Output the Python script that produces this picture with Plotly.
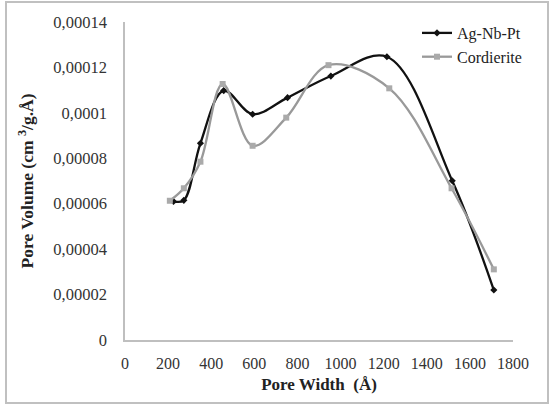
import plotly.graph_objects as go

# Data
ag_x = [225, 273, 350, 458, 592, 754, 955, 1215, 1518, 1711]
ag_y = [0.0000610, 0.0000615, 0.0000866, 0.0001098, 0.0000994, 0.0001067, 0.0001162, 0.0001247, 0.0000701, 0.0000220]
co_x = [208, 273, 350, 453, 592, 748, 944, 1226, 1515, 1711]
co_y = [0.0000613, 0.0000668, 0.0000785, 0.0001127, 0.0000855, 0.0000979, 0.0001210, 0.0001108, 0.0000668, 0.0000311]

y_ticks = [0, 0.00002, 0.00004, 0.00006, 0.00008, 0.0001, 0.00012, 0.00014]
y_labels = ["0", "0,00002", "0,00004", "0,00006", "0,00008", "0,0001", "0,00012", "0,00014"]
x_ticks = [0, 200, 400, 600, 800, 1000, 1200, 1400, 1600, 1800]

FONT = "Liberation Serif"

fig = go.Figure()
fig.add_trace(go.Scatter(
    x=ag_x, y=ag_y, name="Ag-Nb-Pt", mode="lines+markers",
    line=dict(color="#111111", width=2.3, shape="spline", smoothing=1),
    marker=dict(symbol="diamond", size=5.5, color="#111111"),
))
fig.add_trace(go.Scatter(
    x=co_x, y=co_y, name="Cordierite", mode="lines+markers",
    line=dict(color="#999999", width=2.3, shape="spline", smoothing=1),
    marker=dict(symbol="square", size=6, color="#aaaaaa"),
))

L, R, T, B = 125, 37, 22, 65
W, H = 550, 405
pw, ph = W - L - R, H - T - B

def px2paper_x(px):
    return (px - L) / pw

def px2paper_y(py):
    return (H - B - py) / ph

fig.add_shape(type="rect", xref="paper", yref="paper",
              x0=px2paper_x(6), x1=px2paper_x(548), y0=px2paper_y(403), y1=px2paper_y(2),
              line=dict(color="#c0c0c0", width=2), fillcolor="rgba(0,0,0,0)", layer="below")

fig.update_layout(
    width=W, height=H,
    margin=dict(l=L, r=R, t=T, b=B, autoexpand=False),
    paper_bgcolor="white", plot_bgcolor="white",
    font=dict(family=FONT, size=16, color="#222222"),
    showlegend=True,
    legend=dict(x=px2paper_x(417), y=px2paper_y(16), xanchor="left", yanchor="top",
                font=dict(family=FONT, size=16, color="#222222"),
                bgcolor="rgba(0,0,0,0)", tracegroupgap=0, itemwidth=30),
    xaxis=dict(range=[0, 1800], tickvals=x_ticks, showgrid=False, zeroline=False,
               showline=True, linecolor="#bfbfbf", linewidth=1.5, ticks="",
               ticklabelstandoff=8, automargin=False,
               tickfont=dict(family=FONT, size=16, color="#333333"),
               title=dict(text="<b>Pore Width  (Å)</b>", font=dict(family=FONT, size=17, color="#222222"), standoff=7)),
    yaxis=dict(range=[0, 0.00014], tickvals=y_ticks, ticktext=y_labels, showgrid=False, zeroline=False,
               showline=True, linecolor="#bfbfbf", linewidth=1.5, ticks="",
               ticklabelstandoff=13, automargin=False,
               tickfont=dict(family=FONT, size=16.5, color="#333333"),
               title=dict(text="<b>Pore Volume (cm <sup>3</sup>/g.Å)</b>", font=dict(family=FONT, size=17.5, color="#222222"), standoff=15)),
)

fig.write_html("out.html", config={"displayModeBar": False},
               post_script="document.body.style.margin='0';")
